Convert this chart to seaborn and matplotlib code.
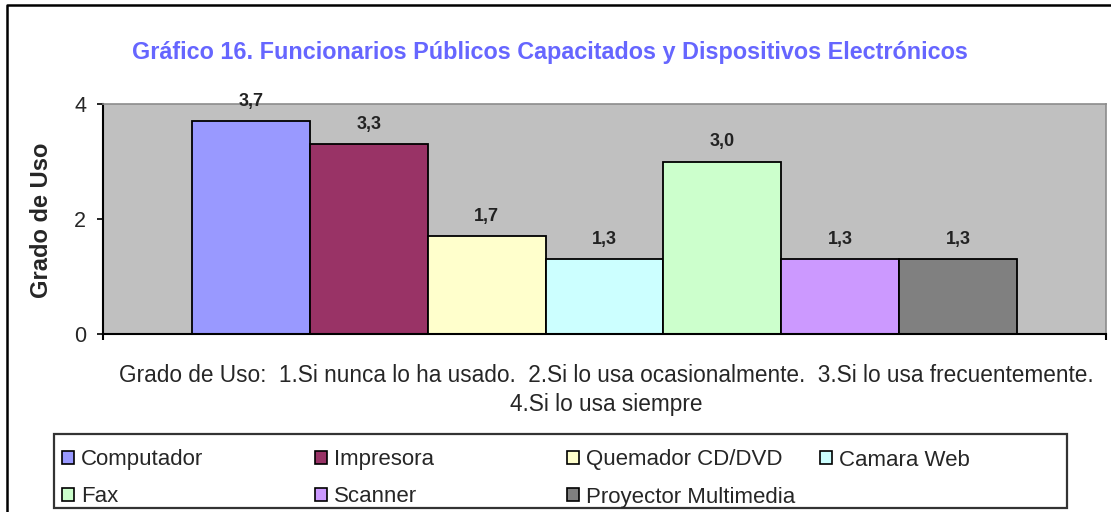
import matplotlib
matplotlib.use("Agg")
import matplotlib.pyplot as plt
from matplotlib.patches import Patch, Rectangle
from matplotlib.lines import Line2D
import pandas as pd
import seaborn as sns

# Datos del gráfico
dispositivos = ["Computador", "Impresora", "Quemador CD/DVD", "Camara Web",
                "Fax", "Scanner", "Proyector Multimedia"]
grado_uso = [3.7, 3.3, 1.7, 1.3, 3.0, 1.3, 1.3]
colores = ["#9999FF", "#993366", "#FFFFCC", "#CCFFFF", "#CCFFCC", "#CC99FF", "#808080"]
y_ticks = [0, 2, 4]

titulo = "Gráfico 16. Funcionarios Públicos Capacitados y Dispositivos Electrónicos"
nota_1 = "Grado de Uso:  1.Si nunca lo ha usado.  2.Si lo usa ocasionalmente.  3.Si lo usa frecuentemente."
nota_2 = "4.Si lo usa siempre"

df = pd.DataFrame({"grupo": [""] * len(dispositivos),
                   "dispositivo": dispositivos,
                   "grado": grado_uso})

sns.set_style("white")
plt.rcParams["font.family"] = ["Liberation Sans", "DejaVu Sans"]

W, H = 1111, 512
fig = plt.figure(figsize=(W / 100, H / 100), dpi=100)
ax = fig.add_axes([103 / W, 1 - 334 / H, 1003 / W, 230 / H])

sns.barplot(data=df, x="grupo", y="grado", hue="dispositivo", hue_order=dispositivos,
            palette=colores, saturation=1, width=0.8225, errorbar=None,
            edgecolor="black", linewidth=1.3, legend=False, ax=ax)

ax.set_facecolor("#C0C0C0")
ax.set_xlim(-0.5, 0.5)
ax.set_ylim(0, 4)
ax.set_yticks(y_ticks)
ax.set_xticks([-0.5, 0.5])
ax.set_xticklabels([])
ax.set_xlabel("")
ax.set_ylabel("")
ax.tick_params(axis="y", direction="out", length=4, width=1.2, labelsize=15.5, pad=8,
               left=True, color="black")
ax.tick_params(axis="x", direction="out", length=4, width=1.5, bottom=True, color="black")
for lado in ["top", "right"]:
    ax.spines[lado].set_color("#8C8C8C")
    ax.spines[lado].set_linewidth(1.2)
for lado in ["left", "bottom"]:
    ax.spines[lado].set_color("black")
    ax.spines[lado].set_linewidth(1.5)

for cont, v in zip(ax.containers, grado_uso):
    ax.bar_label(cont, labels=[f"{v:.1f}".replace(".", ",")], padding=8,
                 fontsize=13, fontweight="bold", color="#222222")

# Título, eje y notas
fig.text(550 / W, 1 - 52 / H, titulo, ha="center", va="center", fontsize=16.8,
         fontweight="bold", color="#6666FF")
fig.text(42 / W, 1 - 220 / H, "Grado de Uso", rotation=90, ha="center", va="center",
         fontsize=17, fontweight="bold")
fig.text(606 / W, 1 - 375 / H, nota_1, ha="center", va="center", fontsize=16.3)
fig.text(606 / W, 1 - 404 / H, nota_2, ha="center", va="center", fontsize=16.3)

# Leyenda en columnas fijas
fig.patches.append(Rectangle((54 / W, 1 - 508 / H), 1013 / W, 74 / H,
                             transform=fig.transFigure, fill=False,
                             edgecolor="#333333", linewidth=1.6))
columnas = [[0, 4], [1, 5], [2, 6], [3, None]]
col_x = [62, 315, 567, 820]
for idx, x in zip(columnas, col_x):
    handles, labels = [], []
    for i in idx:
        if i is None:
            handles.append(Patch(facecolor="none", edgecolor="none"))
            labels.append(" ")
        else:
            handles.append(Patch(facecolor=colores[i], edgecolor="black", linewidth=1.2))
            labels.append(dispositivos[i])
    fig.legend(handles, labels, loc="center left", bbox_to_anchor=(x / W, 1 - 478.5 / H),
               frameon=False, fontsize=16, borderpad=0, borderaxespad=0,
               handlelength=0.55, handleheight=0.55, handletextpad=0.3,
               labelspacing=0.72)

# Marco exterior
fig.lines.append(Line2D([7 / W, 7 / W, 1], [0, 1 - 5 / H, 1 - 5 / H],
                        transform=fig.transFigure, color="black", linewidth=1.8))

fig.savefig("out.png", dpi=100)
plt.close(fig)
